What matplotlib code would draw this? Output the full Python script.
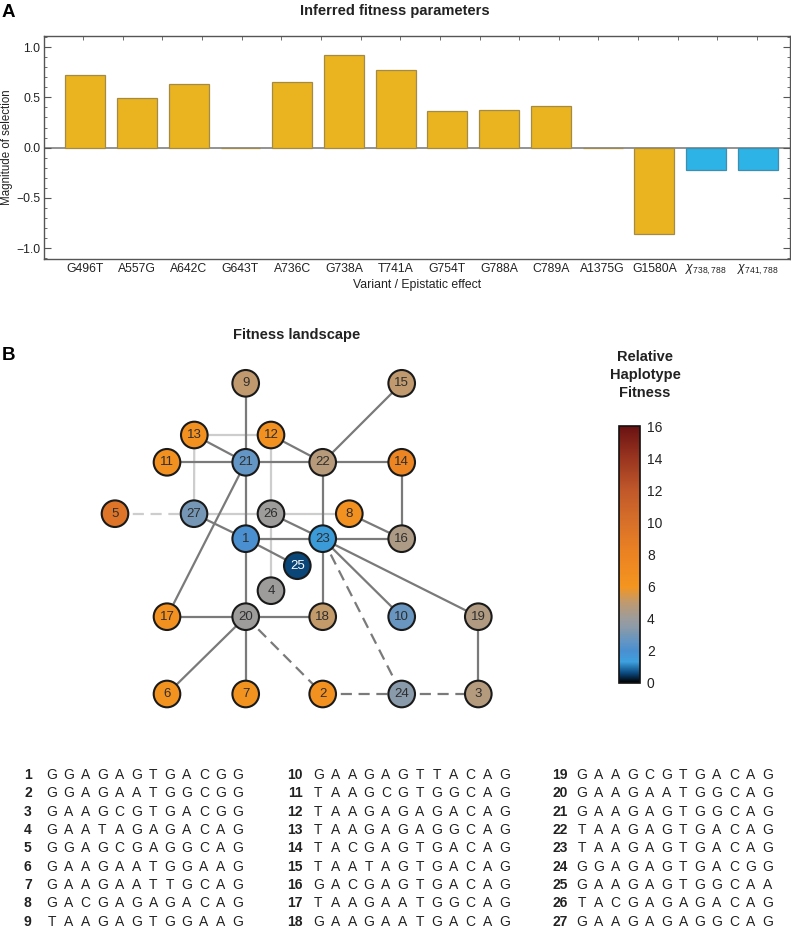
import matplotlib
matplotlib.use('Agg')
import matplotlib.pyplot as plt
import matplotlib as mpl
import numpy as np
from matplotlib.colors import LinearSegmentedColormap, Normalize
from matplotlib.patches import Circle
from matplotlib.ticker import MultipleLocator

plt.rcParams['font.family'] = ['Liberation Sans', 'DejaVu Sans']
plt.rcParams['mathtext.fontset'] = 'custom'
plt.rcParams['mathtext.it'] = 'Liberation Sans:italic'
plt.rcParams['mathtext.rm'] = 'Liberation Sans'

# ---------------- data ----------------
variants = ['G496T', 'A557G', 'A642C', 'G643T', 'A736C', 'G738A', 'T741A',
            'G754T', 'G788A', 'C789A', 'A1375G', 'G1580A',
            r'$\chi_{738,788}$', r'$\chi_{741,788}$']
selection = [0.72, 0.49, 0.635, 0.0, 0.65, 0.925, 0.77,
             0.362, 0.375, 0.41, 0.0, -0.862, -0.225, -0.225]
is_epistatic = [False] * 12 + [True] * 2

node_ids = list(range(1, 28))
node_fitness = [2.0, 6.4, 4.7, 4.0, 9.5, 6.3, 6.3, 6.5, 5.0, 2.7,
                6.5, 6.5, 6.5, 7.8, 5.0, 4.5, 6.6, 5.1, 4.6, 4.0,
                2.6, 4.8, 1.3, 3.4, 0.6, 4.0, 3.0]

edges_solid = [(9, 21), (15, 22), (13, 21), (12, 22), (11, 21), (21, 22),
               (22, 14), (21, 1), (21, 17), (22, 23), (14, 16), (27, 1),
               (26, 23), (8, 16), (1, 23), (23, 16), (1, 25), (1, 20),
               (23, 18), (23, 10), (23, 19), (17, 20), (20, 18), (20, 6),
               (20, 7), (19, 3)]
edges_light = [(13, 12), (13, 27), (12, 26), (26, 4), (27, 26), (26, 8)]
edges_dashed = [(23, 24), (20, 2), (2, 24), (24, 3)]
edges_light_dashed = [(5, 27)]

sequences = ['GGAGAGTGACGG', 'GGAGAATGGCGG', 'GAAGCGTGACGG', 'GAATAGAGACAG',
             'GGAGCGAGGCAG', 'GAAGAATGGAAG', 'GAAGAATTGCAG', 'GACGAGAGACAG',
             'TAAGAGTGGAAG', 'GAAGAGTTACAG', 'TAAGCGTGGCAG', 'TAAGAGAGACAG',
             'TAAGAGAGGCAG', 'TACGAGTGACAG', 'TAATAGTGACAG', 'GACGAGTGACAG',
             'TAAGAATGGCAG', 'GAAGAATGACAG', 'GAAGCGTGACAG', 'GAAGAATGGCAG',
             'GAAGAGTGGCAG', 'TAAGAGTGACAG', 'TAAGAGTGACAG', 'GGAGAGTGACGG',
             'GAAGAGTGGCAA', 'TACGAGAGACAG', 'GAAGAGAGGCAG']

cbar_ticks = [0, 2, 4, 6, 8, 10, 12, 14, 16]

# ---------------- layout (pixels) ----------------
W, H = 791, 927
node_layout = {
    9: (245.7, 383.3), 15: (401.7, 383.3), 13: (194.3, 435), 12: (271, 435),
    11: (167, 462.3), 21: (245.7, 462.3), 22: (322.7, 462.3), 14: (401.7, 462.3),
    5: (115, 513.7), 27: (194, 513.7), 26: (271, 513.7), 8: (349.3, 513.7),
    1: (245.7, 538.7), 23: (322.7, 538.7), 16: (401.7, 538.7),
    25: (297.3, 565.7), 4: (271, 590.7),
    17: (167, 616.7), 20: (245.7, 616.7), 18: (322.7, 616.7),
    10: (401.7, 616.7), 19: (478.3, 616.7),
    6: (167, 694), 7: (245.7, 694), 2: (322.7, 694), 24: (401.7, 694),
    3: (478.3, 694),
}


def rect(x0, y0, x1, y1):
    return [x0 / W, 1 - y1 / H, (x1 - x0) / W, (y1 - y0) / H]


fig = plt.figure(figsize=(W / 100, H / 100), dpi=100)

# ---------------- panel A ----------------
ax = fig.add_axes(rect(44.3, 36, 790, 259))
xpos = np.arange(len(variants))
colors = ['#2DB3E6' if e else '#E9B41F' for e in is_epistatic]
edgec = ['#3F8EAE' if e else '#A38B45' for e in is_epistatic]
ax.bar(xpos, selection, width=0.77, color=colors, edgecolor=edgec,
       linewidth=0.9, zorder=2)
ax.axhline(0, color='#8a8a8a', lw=1.3, zorder=1)
ax.set_xlim(-0.79, 13.62)
ax.set_ylim(-1.107, 1.11)
ax.set_xticks(xpos)
ax.set_xticklabels(variants, fontsize=8.8, color='#222222')
ax.tick_params(axis='x', which='major', length=0, pad=3)
ax.xaxis.set_minor_locator(MultipleLocator(0.766, offset=-0.04))
ax.tick_params(axis='x', which='minor', bottom=False, top=True,
               direction='in', length=3, color='#555555')
ax.set_yticks([-1.0, -0.5, 0.0, 0.5, 1.0])
ax.set_yticklabels(['\u22121.0', '\u22120.5', '0.0', '0.5', '1.0'])
ax.yaxis.set_minor_locator(MultipleLocator(0.1))
ax.tick_params(axis='y', which='major', direction='in', length=5,
               left=True, right=True, labelsize=8.8, pad=3,
               color='#555555', labelcolor='#222222')
ax.tick_params(axis='y', which='minor', direction='in', length=2.5,
               left=True, right=True, color='#555555')
for s in ax.spines.values():
    s.set_color('#555555')
    s.set_linewidth(1.0)
ax.set_ylabel('Magnitude of selection', fontsize=8.3, color='#222222')
ax.yaxis.set_label_coords(-0.0425, 0.5)
ax.set_xlabel('Variant / Epistatic effect', fontsize=8.8, color='#222222')
ax.xaxis.set_label_coords(0.5, -0.09)

# ---------------- colormap ----------------
stops = [(0.0, '#000000'), (0.6, '#0b4a80'), (1.3, '#3ea0de'),
         (2.0, '#4a8fcf'), (2.6, '#6496c4'), (3.0, '#7497b5'),
         (3.4, '#8a9aaa'), (4.0, '#9c9c9c'),
         (5.0, '#bf9a70'), (6.0, '#f4951f'), (8.0, '#ec8322'),
         (10.0, '#d8702a'), (12.0, '#c0582a'), (14.0, '#9a3520'),
         (16.0, '#6a1212')]
cmap = LinearSegmentedColormap.from_list(
    'fit', [(v / 16.0, c) for v, c in stops])
norm = Normalize(0, 16)

# ---------------- panel B network ----------------
nax = fig.add_axes(rect(90, 360, 500, 720))
nax.set_xlim(90, 500)
nax.set_ylim(720, 360)
nax.axis('off')


def draw_edges(elist, color, lw, ls):
    for a, b in elist:
        xa, ya = node_layout[a]
        xb, yb = node_layout[b]
        nax.plot([xa, xb], [ya, yb], color=color, lw=lw, ls=ls, zorder=1,
                 solid_capstyle='butt')


draw_edges(edges_light, '#cdcdcd', 1.6, '-')
draw_edges(edges_light_dashed, '#cdcdcd', 1.6, (0, (5, 3)))
draw_edges(edges_solid, '#7a7a7a', 1.6, '-')
draw_edges(edges_dashed, '#7a7a7a', 1.6, (0, (5, 3)))

for nid, f in zip(node_ids, node_fitness):
    x, y = node_layout[nid]
    nax.add_patch(Circle((x, y), 13.3, facecolor=cmap(norm(f)),
                         edgecolor='#1a1a1a', lw=1.5, zorder=3))
    nax.text(x, y, str(nid), ha='center', va='center', fontsize=9.5,
             color='white' if f < 1.0 else '#2e2e2e', zorder=4)

# ---------------- colorbar ----------------
cax = fig.add_axes(rect(619, 426, 640, 683))
cb = mpl.colorbar.ColorbarBase(cax, cmap=cmap, norm=norm, ticks=cbar_ticks)
cb.ax.tick_params(length=0, labelsize=10, pad=5, labelcolor='#222222')
cb.outline.set_linewidth(1.2)
cb.outline.set_edgecolor('#111111')

# ---------------- overlay texts ----------------
ov = fig.add_axes([0, 0, 1, 1])
ov.set_xlim(0, W)
ov.set_ylim(H, 0)
ov.axis('off')

ov.text(2, 12, 'A', fontsize=13.5, fontweight='bold', ha='left', va='center')
ov.text(395, 11, 'Inferred fitness parameters', fontsize=10.5,
        fontweight='bold', ha='center', va='center', color='#222222')
ov.text(2, 355, 'B', fontsize=13.5, fontweight='bold', ha='left', va='center')
ov.text(296.7, 335, 'Fitness landscape', fontsize=10.5, fontweight='bold',
        ha='center', va='center', color='#222222')
for i, line in enumerate(['Relative', 'Haplotype', 'Fitness']):
    ov.text(645, 361 + i * 18.2, line, fontsize=10.5, fontweight='bold',
            ha='center', va='baseline', color='#222222')

# sequence table
col_num_right = [31.7, 302.7, 567.7]
col_first_letter = [51.7, 318.3, 581.7]
letter_step = 16.9
row0, row_step = 775.0, 18.33
for i, seq in enumerate(sequences):
    c = i // 9
    r = i % 9
    y = row0 + r * row_step
    ov.text(col_num_right[c], y, str(i + 1), fontsize=10, fontweight='bold',
            ha='right', va='center', color='#222222')
    for j, ch in enumerate(seq):
        ov.text(col_first_letter[c] + j * letter_step, y, ch, fontsize=10,
                ha='center', va='center', color='#222222')

fig.savefig('out.png', dpi=100)
